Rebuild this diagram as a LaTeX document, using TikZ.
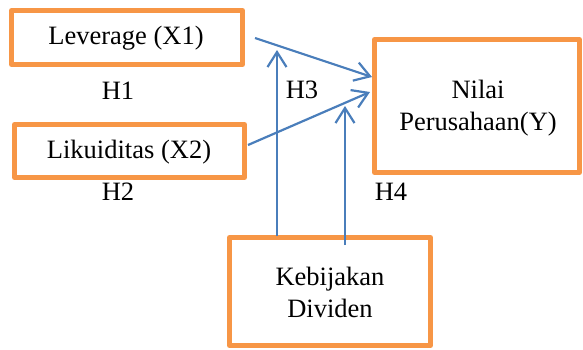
\documentclass[tikz,border=0pt]{standalone}
\usepackage{fontspec}
\setmainfont{Liberation Serif}
\usetikzlibrary{arrows.meta}
\definecolor{boxorange}{HTML}{F79646}
\definecolor{lineblue}{HTML}{4A7EBB}
\begin{document}
\begin{tikzpicture}[x=1pt,y=-1pt,
  txt/.style={font=\fontsize{26.5}{32}\selectfont, inner sep=0pt, align=center},
  obox/.style={draw=boxorange, line width=5pt, line join=round},
  conn/.style={draw=lineblue, line width=2.2pt, -{Straight Barb[length=15pt,width=19pt,line width=2.2pt]}},
  plain/.style={draw=lineblue, line width=2.2pt}]
\useasboundingbox (0,0) rectangle (583,349);
% boxes
\draw[obox] (11.5,10.5) rectangle (242.5,64.5);
\draw[obox] (14.5,124.5) rectangle (244.5,177.5);
\draw[obox] (374.5,39.5) rectangle (579.5,172.5);
\draw[obox] (229.5,237.5) rectangle (430.5,345.5);
% texts
\node[txt] (x1) at (126,38) {Leverage (X1)};
\node[txt] (x2) at (129,152) {Likuiditas (X2)};
\node[txt] (y) at (478,108) {Nilai\\Perusahaan(Y)};
\node[txt] (z) at (330,292) {Kebijakan\\Dividen};
\node[txt] (h1) at (118,91) {H1};
\node[txt] (h2) at (118,192) {H2};
\node[txt] (h3) at (302,90) {H3};
\node[txt] (h4) at (391,192) {H4};
% connector endpoints
\coordinate (s1) at (255,38);
\coordinate (t1) at (372,77);
\coordinate (s2) at (248,145);
\coordinate (t2) at (370,92);
\coordinate (s3) at (277,236);
\coordinate (t3) at (277,50);
\coordinate (s4) at (345,245);
\coordinate (t4) at (345,106);
\draw[conn] (s1) -- (t1);
\draw[conn] (s2) -- (t2);
\draw[conn] (s3) -- (t3);
\draw[conn] (s4) -- (t4);
\end{tikzpicture}
\end{document}
